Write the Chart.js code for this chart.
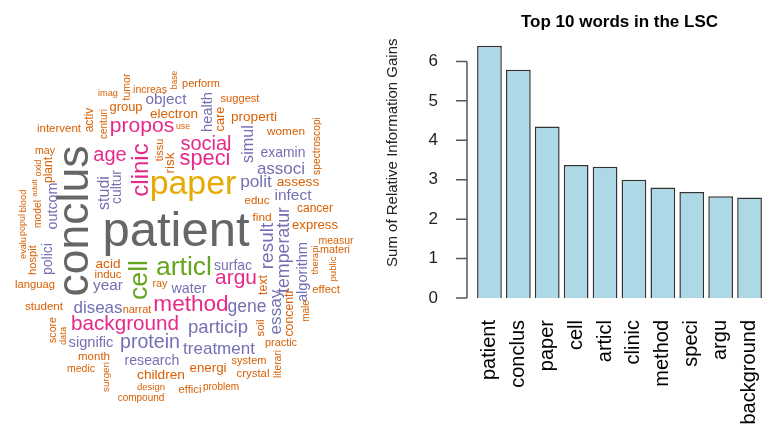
<!DOCTYPE html>
<html>
<head>
  <title>Top 10 words in the LSC</title>
  <script src="https://cdn.jsdelivr.net/npm/chart.js"></script>
  <style>
    body { margin: 0; background: #fff; }
    #wrap { display: flex; width: 772px; height: 429px; }
  </style>
</head>
<body>
  <div id="wrap">
    <canvas id="cloud" width="380" height="429"></canvas>
    <canvas id="bars" width="392" height="429"></canvas>
  </div>
  <script>
    // bar chart data
    const barLabels = ['patient', 'conclus', 'paper', 'cell', 'articl', 'clinic', 'method', 'speci', 'argu', 'background'];
    const barValues = [6.4, 5.79, 4.35, 3.37, 3.33, 3.0, 2.8, 2.69, 2.58, 2.55];
    const yTicks = [0, 1, 2, 3, 4, 5, 6];

    // word cloud: word, weight, place in the cloud, and whether it is written upward
    const cloudWords = [
      'patient', 'conclus', 'paper', 'cell', 'articl', 'clinic', 'method', 'speci', 'argu', 'background',
      'propos', 'age', 'social', 'protein', 'result', 'particip', 'temperatur', 'gene', 'polit', 'essay',
      'diseas', 'associ', 'treatment', 'simul', 'studi', 'infect', 'object', 'year', 'signific', 'health',
      'algorithm', 'water', 'outcom', 'research', 'polici', 'cultur', 'examin', 'surfac',
      'imag', 'tumor', 'increas', 'base', 'perform', 'group', 'centuri', 'activ', 'electron', 'intervent',
      'use', 'tissu', 'risk', 'may', 'oxid', 'plant', 'suggest', 'properti', 'care', 'women',
      'spectroscopi', 'assess', 'educ', 'cancer', 'find', 'express', 'measur', 'materi', 'therapi', 'public',
      'effect', 'text', 'concentr', 'male', 'soil', 'practic', 'system', 'crystal', 'literari', 'energi',
      'effici', 'problem', 'acid', 'induc', 'ray', 'narrat', 'student', 'languag', 'hospit', 'evalu',
      'popul', 'blood', 'adult', 'model', 'score', 'data', 'month', 'medic', 'surgeri', 'children',
      'design', 'compound'
    ];
    const cloudFreq = [
      6.4, 5.79, 4.35, 3.37, 3.33, 3.0, 2.8, 2.69, 2.58, 2.55,
      2.6, 2.45, 2.45, 2.39, 2.31, 2.26, 2.15, 2.11, 2.09, 2.07,
      2.04, 2.04, 2.04, 1.94, 1.9, 1.84, 1.82, 1.82, 1.73, 1.73,
      1.71, 1.67, 1.67, 1.65, 1.63, 1.62, 1.62, 1.62,
      0.98, 1.16, 1.16, 0.88, 1.22, 1.48, 1.09, 1.36, 1.56, 1.29,
      0.91, 1.22, 1.56, 1.17, 0.99, 1.36, 1.24, 1.58, 1.48, 1.33,
      1.13, 1.59, 1.29, 1.36, 1.33, 1.51, 1.16, 1.2, 1.02, 1.03,
      1.28, 1.41, 1.4, 1.09, 1.26, 1.21, 1.22, 1.28, 1.13, 1.54,
      1.25, 1.09, 1.58, 1.26, 1.2, 1.22, 1.31, 1.25, 1.25, 0.98,
      0.95, 1.0, 0.82, 1.13, 1.17, 0.99, 1.29, 1.16, 1.06, 1.59,
      1.02, 1.09
    ];
    const cloudX = [
      176, 76, 193, 140, 184, 141, 191, 205, 236, 125,
      142, 110, 206, 150, 268, 218, 284, 247, 256, 276,
      98, 281, 219, 249, 105, 293, 166, 108, 91, 208,
      303, 189, 53, 152, 48, 117, 283, 233,
      108, 127, 150, 175, 201, 126, 104, 90, 174, 59,
      183, 160, 170, 45, 38, 49, 240, 254, 220, 286,
      317, 298, 257, 315, 262, 315, 336, 335, 315, 333,
      326, 264, 290, 306, 261, 281, 249, 253, 278, 208,
      190, 221, 108, 108, 160, 137, 44, 35, 33, 23,
      23, 23, 35, 38, 53, 63, 94, 81, 106, 161,
      151, 141
    ];
    const cloudY = [
      232, 221, 185, 280, 268, 170, 305, 159, 278, 324,
      126, 155, 144, 343, 246, 328, 250, 307, 182, 312,
      308, 169, 349, 144, 193, 196, 100, 286, 343, 112,
      272, 289, 206, 361, 259, 187, 153, 266,
      93, 87, 90, 80, 84, 107, 124, 120, 114, 129,
      127, 150, 163, 151, 168, 170, 99, 117, 119, 132,
      146, 182, 201, 209, 218, 225, 241, 250, 260, 269,
      290, 285, 313, 311, 328, 343, 361, 374, 364, 368,
      390, 387, 264, 275, 284, 310, 307, 285, 260, 248,
      225, 201, 188, 214, 330, 336, 357, 369, 377, 375,
      387, 398
    ];
    const cloudVertical = [
      0, 1, 0, 1, 0, 1, 0, 0, 0, 0,
      0, 0, 0, 0, 1, 0, 1, 0, 0, 1,
      0, 0, 0, 1, 1, 0, 0, 0, 0, 1,
      1, 0, 1, 0, 1, 1, 0, 0,
      0, 1, 0, 1, 0, 0, 1, 1, 0, 0,
      0, 1, 1, 0, 1, 1, 0, 0, 1, 0,
      1, 0, 0, 0, 0, 0, 0, 0, 1, 1,
      0, 1, 1, 1, 1, 0, 0, 0, 1, 0,
      0, 0, 0, 0, 0, 0, 0, 0, 1, 1,
      1, 1, 1, 1, 1, 1, 0, 0, 1, 0,
      0, 0
    ];

    const dark2 = ['#1B9E77', '#D95F02', '#7570B3', '#E7298A', '#66A61E', '#E6AB02', '#A6761D', '#666666'];
    const fontFamily = '"Liberation Sans", Arial, sans-serif';
    Chart.defaults.font.family = fontFamily;

    // draws each cloud word at its point, size and colour from its weight
    const cloudText = {
      id: 'cloudText',
      afterDatasetsDraw(chart) {
        const ctx = chart.ctx;
        const maxF = Math.max(...cloudFreq);
        chart.getDatasetMeta(0).data.forEach((pt, i) => {
          const f = cloudFreq[i];
          ctx.save();
          ctx.translate(pt.x, pt.y);
          if (cloudVertical[i]) ctx.rotate(-Math.PI / 2);
          ctx.font = (2 + 47 * f / maxF).toFixed(1) + 'px ' + fontFamily;
          ctx.fillStyle = dark2[Math.ceil(8 * f / maxF) - 1];
          ctx.textAlign = 'center';
          ctx.textBaseline = 'middle';
          ctx.fillText(cloudWords[i], 0, 0);
          ctx.restore();
        });
      }
    };

    new Chart(document.getElementById('cloud'), {
      type: 'scatter',
      data: {
        datasets: [{
          data: cloudWords.map((w, i) => ({ x: cloudX[i], y: cloudY[i] })),
          pointRadius: 0
        }]
      },
      options: {
        responsive: false,
        animation: false,
        layout: { padding: 0 },
        plugins: { legend: { display: false }, tooltip: { enabled: false } },
        scales: {
          x: { display: false, min: 0, max: 380 },
          y: { display: false, min: 0, max: 429, reverse: true }
        }
      },
      plugins: [cloudText]
    });

    // R style y axis: detached line from first to last tick, plus the axis title
    const rAxis = {
      id: 'rAxis',
      afterDraw(chart) {
        const y = chart.scales.y;
        const ctx = chart.ctx;
        const x0 = chart.chartArea.left - 8;
        ctx.save();
        ctx.strokeStyle = '#555';
        ctx.lineWidth = 1.5;
        ctx.beginPath();
        ctx.moveTo(x0, y.getPixelForValue(yTicks[0]));
        ctx.lineTo(x0, y.getPixelForValue(yTicks[yTicks.length - 1]));
        yTicks.forEach(t => {
          const py = y.getPixelForValue(t);
          ctx.moveTo(x0 - 11, py);
          ctx.lineTo(x0, py);
        });
        ctx.stroke();
        ctx.translate(13, (y.top + y.bottom) / 2 - 27);
        ctx.rotate(-Math.PI / 2);
        ctx.font = '15px ' + fontFamily;
        ctx.fillStyle = '#222';
        ctx.textAlign = 'center';
        ctx.textBaseline = 'middle';
        ctx.fillText('Sum of Relative Information Gains', 0, 0);
        ctx.restore();
      }
    };

    new Chart(document.getElementById('bars'), {
      type: 'bar',
      data: {
        labels: barLabels,
        datasets: [{
          data: barValues,
          backgroundColor: '#ADD8E6',
          borderColor: '#333',
          borderWidth: 1.5,
          barPercentage: 0.856,
          categoryPercentage: 1,
          clip: false
        }]
      },
      options: {
        responsive: false,
        animation: false,
        layout: { padding: { right: 8 } },
        plugins: {
          legend: { display: false },
          tooltip: { enabled: false },
          title: {
            display: true,
            text: 'Top 10 words in the LSC',
            color: '#000',
            fullSize: false,
            font: { size: 17, weight: 'bold' },
            padding: { top: 12, bottom: 29 }
          }
        },
        scales: {
          x: {
            grid: { display: false },
            border: { display: false },
            ticks: { color: '#000', font: { size: 20 }, minRotation: 90, maxRotation: 90, padding: 14, autoSkip: false },
            afterFit: s => { s.height = 131; s.paddingLeft = 0; s.paddingRight = 0; }
          },
          y: {
            min: 0,
            max: 6,
            grid: { display: false },
            border: { display: false },
            ticks: { stepSize: 1, color: '#222', font: { size: 17 }, padding: 29 },
            afterFit: s => { s.width = 95; }
          }
        }
      },
      plugins: [rAxis]
    });
  </script>
</body>
</html>
